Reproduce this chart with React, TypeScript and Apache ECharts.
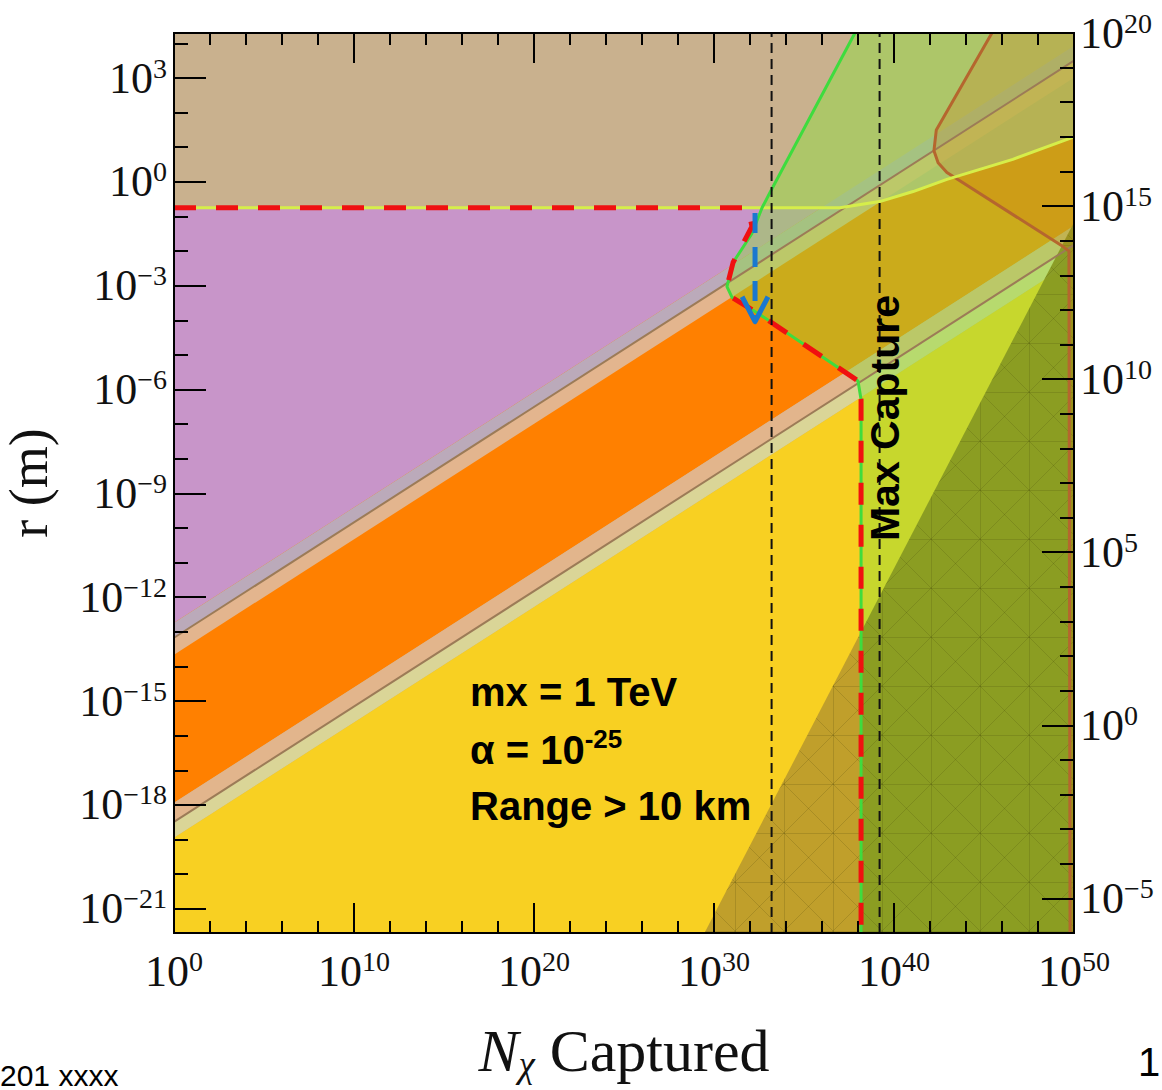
import React, { useEffect, useRef } from "react";
import * as echarts from "echarts";

type Pt = [number, number];

// ---- axes (log10 exponents) ----
const xRange: Pt = [0, 50];
const rRange: Pt = [-21.7, 4.3];
const rightRange: Pt = [-6, 20];
const rMajor = [-21, -18, -15, -12, -9, -6, -3, 0, 3];
const rMinor = [-21, -20, -19, -18, -17, -16, -15, -14, -13, -12, -11, -10, -9, -8, -7, -6, -5, -4, -3, -2, -1, 0, 1, 2, 3, 4];
const rightMajor = [-5, 0, 5, 10, 15, 20];
const rightMinor = [-6, -5, -4, -3, -2, -1, 0, 1, 2, 3, 4, 5, 6, 7, 8, 9, 10, 11, 12, 13, 14, 15, 16, 17, 18, 19];

// ---- regions (x = log10 N captured, y = log10 r) ----
const plotArea: Pt[] = [[0, -21.7], [50, -21.7], [50, 4.3], [0, 4.3]];
const ygCurve: Pt[] = [[0, -0.75], [37, -0.75], [39.2, -0.57], [41.06, -0.28], [42.94, 0.07], [46.6, 0.65], [50, 1.3]];
const lowerOrangeEdge: Pt[] = [[0, -17.94], [50, -1.27]];
const purpleZone: Pt[] = [[0, -0.75], [35.97, -0.75], [0, -12.74]];
const upperGrayBand: Pt[] = [[0, -12.74], [50, 3.93], [50, 3.5], [0, -13.17]];
const upperTanBand: Pt[] = [[0, -13.17], [50, 3.5], [50, 3.01], [0, -13.66]];
const lowerTanBand: Pt[] = [[0, -17.94], [50, -1.27], [50, -1.82], [0, -18.49]];
const lowerPaleBand: Pt[] = [[0, -18.49], [50, -1.82], [50, -2.28], [0, -18.95]];
const yellowZone: Pt[] = [[0, -18.95], [50, -2.28], [50, -21.7], [0, -21.7]];
const upperLine: Pt[] = [[0, -13.17], [50, 3.5]];
const lowerLine: Pt[] = [[0, -18.49], [50, -1.82]];
const greenBoundary: Pt[] = [[37.83, 4.3], [33.11, -0.31], [32.67, -0.75], [32.1, -1.5], [31.06, -2.33], [30.72, -3.03], [31.0, -3.34], [32.39, -3.78], [38.0, -5.75], [38.17, -6.29], [38.17, -21.7]];
const redBoundary: Pt[] = [[0, -0.75], [31.89, -0.75], [32.11, -1.29], [31.06, -2.33], [30.72, -3.03], [31.0, -3.34], [32.39, -3.78], [38.0, -5.75], [38.17, -6.29], [38.17, -21.7]];
const oliveLeft: Pt[] = [[29.47, -21.7], [38.17, -13.0], [38.17, -21.7]];
const oliveRight: Pt[] = [[38.17, -13.0], [50, -1.17], [50, -21.7], [38.17, -21.7]];
const oliveAll: Pt[] = [[29.47, -21.7], [50, -1.17], [50, -21.7]];
const brownCurve: Pt[] = [[45.44, 4.3], [42.35, 1.5], [42.22, 0.9], [42.45, 0.55], [42.94, 0.27], [49.39, -1.87], [49.72, -2.0], [49.78, -21.7]];
const capture1: Pt[] = [[33.2, -21.7], [33.2, 4.3]];
const capture2: Pt[] = [[39.2, -21.7], [39.2, 4.3]];
const arrowShaft: Pt[] = [[32.28, -0.9], [32.28, -3.95]];
const arrowHead: Pt[] = [[31.56, -3.32], [32.28, -4.04], [33.0, -3.32]];

const orangeZone: Pt[] = [...lowerOrangeEdge, ...ygCurve.slice().reverse()];
const greenOverlay: Pt[] = [...greenBoundary, [50, -21.7], [50, 4.3]];
const brownOverlay: Pt[] = [...brownCurve, [50, -21.7], [50, 4.3]];

const SERIF = "Liberation Serif";
const SANS = "Liberation Sans";

const sup = (v: number) => {
  const n = Math.round(v);
  return n < 0 ? "\u2212" + Math.abs(n) : String(n);
};
const powLabel = (v: number) => `{b|10}{s|${sup(v)}}`;
const powRich = {
  b: { fontFamily: SERIF, fontSize: 44, lineHeight: 48, color: "#111" },
  s: { fontFamily: SERIF, fontSize: 28, lineHeight: 34, verticalAlign: "top", color: "#111" },
};

const makeHatch = () => {
  const c = document.createElement("canvas");
  const s = 49;
  c.width = s;
  c.height = s;
  const g = c.getContext("2d");
  if (g) {
    g.strokeStyle = "rgba(50,50,0,0.16)";
    g.lineWidth = 1;
    g.beginPath();
    g.moveTo(0.5, 0); g.lineTo(0.5, s);
    g.moveTo(0, 0.5); g.lineTo(s, 0.5);
    g.moveTo(0, s); g.lineTo(s, 0);
    g.moveTo(0, 0); g.lineTo(s, s);
    g.stroke();
  }
  return c;
};

const polygon = (pts: Pt[], fill: any) => ({
  type: "custom",
  coordinateSystem: "cartesian2d",
  clip: true,
  silent: true,
  data: pts,
  renderItem: (params: any, api: any) => {
    if (params.dataIndex !== 0) return null;
    return {
      type: "polygon",
      shape: { points: pts.map((p) => api.coord(p)) },
      style: { fill },
    };
  },
});

const path = (pts: Pt[], color: string, width: number, dash: any = "solid") => ({
  type: "line",
  data: pts,
  symbol: "none",
  silent: true,
  clip: true,
  lineStyle: { color, width, type: dash, cap: "butt", join: "round" },
});

const axisLineStyle = { show: true, onZero: false, lineStyle: { color: "#000", width: 2 } };
const tickStyle = { color: "#000", width: 2 };

export default function App() {
  const ref = useRef<HTMLDivElement>(null);
  useEffect(() => {
    if (!ref.current) return;
    const chart = echarts.init(ref.current, null, { renderer: "svg" });
    const hatch = { image: makeHatch(), repeat: "repeat" };
    const option: any = {
      animation: false,
      grid: { left: 174, top: 33, width: 900, height: 900, outerBoundsMode: "none" },
      xAxis: [
        {
          type: "value", position: "bottom", min: xRange[0], max: xRange[1], interval: 10, z: 10,
          axisLine: axisLineStyle,
          axisTick: { inside: true, length: 30, lineStyle: tickStyle },
          minorTick: { show: true, splitNumber: 5, length: 12, lineStyle: tickStyle },
          axisLabel: { formatter: powLabel, rich: powRich, margin: 14 },
          splitLine: { show: false },
          name: "{n|N}{c|\u03c7}{t| Captured}",
          nameLocation: "middle",
          nameGap: 86,
          nameTextStyle: {
            rich: {
              n: { fontFamily: SERIF, fontSize: 60, fontStyle: "italic", lineHeight: 64, color: "#111" },
              c: { fontFamily: SERIF, fontSize: 37, fontStyle: "italic", lineHeight: 24, verticalAlign: "bottom", color: "#111" },
              t: { fontFamily: SERIF, fontSize: 60, lineHeight: 64, color: "#111" },
            },
          },
        },
        {
          type: "value", position: "top", min: xRange[0], max: xRange[1], interval: 10, z: 10,
          axisLine: axisLineStyle,
          axisTick: { inside: true, length: 30, lineStyle: tickStyle },
          minorTick: { show: true, splitNumber: 5, length: 12, lineStyle: tickStyle },
          axisLabel: { show: false },
          splitLine: { show: false },
        },
      ],
      yAxis: [
        {
          type: "value", position: "left", min: rRange[0], max: rRange[1], z: 10,
          axisLine: axisLineStyle,
          axisTick: { inside: true, length: 32, lineStyle: tickStyle, customValues: rMajor },
          axisLabel: { customValues: rMajor, formatter: powLabel, rich: powRich, margin: 7 },
          splitLine: { show: false },
          name: "r (m)",
          nameLocation: "middle",
          nameRotate: 90,
          nameGap: 118,
          nameTextStyle: { fontFamily: SERIF, fontSize: 54, color: "#111" },
        },
        {
          type: "value", position: "left", min: rRange[0], max: rRange[1], z: 10,
          axisLine: axisLineStyle,
          axisTick: { inside: true, length: 14, lineStyle: tickStyle, customValues: rMinor },
          axisLabel: { show: false },
          splitLine: { show: false },
        },
        {
          type: "value", position: "right", min: rightRange[0], max: rightRange[1], z: 10,
          axisLine: axisLineStyle,
          axisTick: { inside: true, length: 32, lineStyle: tickStyle, customValues: rightMajor },
          axisLabel: { customValues: rightMajor, formatter: powLabel, rich: powRich, margin: 6 },
          splitLine: { show: false },
        },
        {
          type: "value", position: "right", min: rightRange[0], max: rightRange[1], z: 10,
          axisLine: axisLineStyle,
          axisTick: { inside: true, length: 14, lineStyle: tickStyle, customValues: rightMinor },
          axisLabel: { show: false },
          splitLine: { show: false },
        },
      ],
      series: [
        polygon(plotArea, "#C9B18E"),
        polygon(orangeZone, "#FF8000"),
        polygon(purpleZone, "#C895C9"),
        polygon(upperGrayBand, "#BBAABA"),
        polygon(upperTanBand, "#E3B58E"),
        polygon(lowerTanBand, "#E2B58C"),
        polygon(lowerPaleBand, "#DAD597"),
        polygon(yellowZone, "#F8D022"),
        path(upperLine, "#9C7B57", 2),
        path(lowerLine, "#9C7B57", 2),
        polygon(greenOverlay, "rgba(140,225,60,0.45)"),
        polygon(oliveLeft, "rgba(189,156,44,0.95)"),
        polygon(oliveRight, "rgba(136,154,34,0.95)"),
        polygon(oliveAll, hatch),
        polygon(brownOverlay, "rgba(215,110,10,0.22)"),
        path(brownCurve, "#B5662E", 3),
        path(ygCurve, "#D6EE4A", 3),
        path(greenBoundary, "#3EDC3E", 3),
        path(redBoundary, "#F01010", 5, [22, 20]),
        path(capture1, "#111", 2, [10, 6]),
        path(capture2, "#111", 2, [10, 6]),
        path(arrowShaft, "#1A78CF", 5, [20, 14]),
        path(arrowHead, "#1A78CF", 5),
      ],
      graphic: [
        {
          type: "text", x: 885, y: 418, rotation: Math.PI / 2, z: 100,
          style: { text: "Max Capture", fontFamily: SANS, fontSize: 41, fontWeight: "bold", fill: "#000", align: "center", verticalAlign: "middle" },
        },
        {
          type: "text", x: 470, y: 692, z: 100,
          style: { text: "mx = 1 TeV", fontFamily: SANS, fontSize: 40, fontWeight: "bold", fill: "#000", align: "left", verticalAlign: "middle" },
        },
        {
          type: "text", x: 470, y: 750, z: 100,
          style: {
            text: "{a|\u03b1 = 10}{s|-25}", align: "left", verticalAlign: "middle",
            rich: {
              a: { fontFamily: SANS, fontSize: 40, fontWeight: "bold", lineHeight: 48, fill: "#000", color: "#000" },
              s: { fontFamily: SANS, fontSize: 26, fontWeight: "bold", lineHeight: 26, verticalAlign: "top", fill: "#000", color: "#000" },
            },
          },
        },
        {
          type: "text", x: 470, y: 806, z: 100,
          style: { text: "Range > 10 km", fontFamily: SANS, fontSize: 40, fontWeight: "bold", fill: "#000", align: "left", verticalAlign: "middle" },
        },
        {
          type: "text", x: 0, y: 1090, z: 100,
          style: { text: "201 xxxx", fontFamily: SANS, fontSize: 30, fill: "#000", align: "left", verticalAlign: "bottom" },
        },
        {
          type: "text", x: 1138, y: 1042, z: 100,
          style: { text: "1", fontFamily: SANS, fontSize: 40, fill: "#000", align: "left", verticalAlign: "top" },
        },
      ],
    };
    chart.setOption(option);
    return () => chart.dispose();
  }, []);
  return <div ref={ref} style={{ position: "absolute", left: 0, top: 0, width: 1162, height: 1090 }} />;
}
